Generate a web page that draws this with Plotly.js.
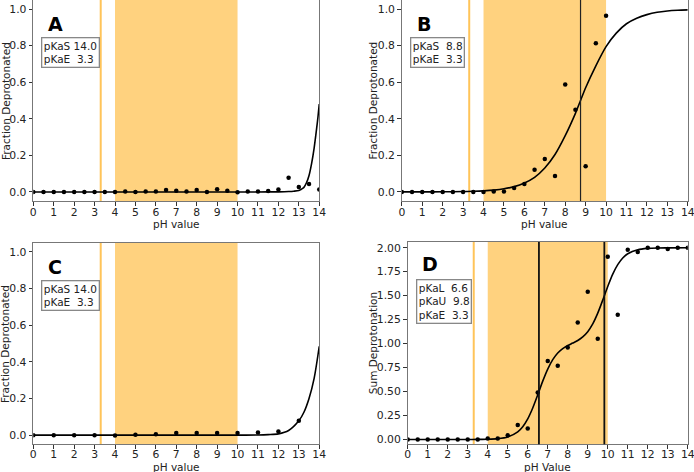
<!DOCTYPE html>
<html>
<head>
<meta charset="utf-8">
<script src="https://cdn.plot.ly/plotly-3.0.1.min.js"></script>
<style>html,body{margin:0;padding:0;background:#fff;}#chart{width:694px;height:472px;}</style>
</head>
<body>
<div id="chart"></div>
<script>
// ---------- data ----------
const phPts05 = [0,0.5,1,1.5,2,2.5,3,3.5,4,4.5,5,5.5,6,6.5,7,7.5,8,8.5,9,9.5,10,10.5,11,11.5,12,12.5,13,13.5,14];
const ptsA = [0,0,0,0,0,0,0,0,0,0.002,0,0.003,0.002,0.01,0.006,0.003,0.01,0,0.014,0.006,-0.002,0.002,0.003,0.005,0.013,0.078,0.027,0.043,0.013];

const phPtsB = [0,0.5,1,1.5,2,2.5,3,3.5,4,4.5,5,5.5,6,6.5,7,7.5,8,8.5,9,9.5,10];
const ptsB = [0,0,0,0,0,0,0,0,0,0.002,0.002,0.022,0.044,0.122,0.18,0.087,0.588,0.45,0.14,0.814,0.964];

const phPtsC = [0,1,2,3,4,5,6,7,8,9,10,11,12,13];
const ptsC = [0,0,0,0,-0.002,0.002,0.005,0.012,0.012,0.012,0.012,0.014,0.02,0.078];

const ptsD = [0,0,0,0,0,0,0,0,0.01,0.01,0.045,0.15,0.115,0.49,0.82,0.77,0.96,1.22,1.54,1.05,1.906,1.30,1.98,1.955,2.0,2.0,1.986,2.0,2.0];

const curveA_pH = [0,2,4,6,8,10,11,12,12.5,12.75,13,13.125,13.25,13.375,13.5,13.625,13.75,13.875,13.9375,14];
const curveA_y  = [0,0,0,0,0,0,0,0.0005,0.002,0.004,0.008,0.015,0.025,0.05,0.09,0.155,0.24,0.35,0.41,0.48];

const curveB_pH = [0,1,2,3,3.5,4,4.5,5,5.5,6,6.5,7,7.5,8,8.5,8.75,9,9.5,10,10.5,11,11.5,12,12.5,13,13.5,14];
const curveB_y  = [0.0001,0.0002,0.0007,0.002,0.0034,0.006,0.01,0.017,0.029,0.049,0.08,0.131,0.205,0.308,0.43,0.5,0.57,0.69,0.795,0.869,0.92,0.95,0.97,0.983,0.99,0.994,0.996];

const curveC_pH = [0,2,4,6,8,10,11,11.5,12,12.5,13,13.25,13.5,13.75,14];
const curveC_y  = [0,0,0,0,0,0,0.001,0.003,0.007,0.025,0.078,0.125,0.2,0.31,0.485];

const curveD_pH = [0,1,2,3,3.5,4,4.5,5,5.5,5.75,6,6.25,6.5,6.75,7,7.25,7.5,7.75,8,8.25,8.5,8.75,9,9.25,9.5,9.75,10,10.25,10.5,10.75,11,11.5,12,12.5,13,14];
const curveD_y  = [0,0,0,0,0.001,0.003,0.009,0.027,0.08,0.134,0.216,0.329,0.466,0.609,0.735,0.833,0.902,0.947,0.98,1.006,1.033,1.071,1.125,1.206,1.318,1.454,1.596,1.725,1.824,1.893,1.937,1.979,1.993,1.998,1.999,2.0];

const shadeRange = [4, 10];
const pKaE = 3.3;
const vlinesB = [8.75];
const vlinesD = [6.56, 9.83];

const panelLetters = ['A','B','C','D'];
const boxTexts = [
  ['pKaS 14.0','pKaE&nbsp;&nbsp;3.3'],
  ['pKaS&nbsp;&nbsp;8.8','pKaE&nbsp;&nbsp;3.3'],
  ['pKaS 14.0','pKaE&nbsp;&nbsp;3.3'],
  ['pKaL&nbsp;&nbsp;6.6','pKaU&nbsp;&nbsp;9.8','pKaE&nbsp;&nbsp;3.3']
];
const xTitles = ['pH value','pH value','pH value','pH Value'];
const yTitles = ['Fraction Deprotonated','Fraction Deprotonated','Fraction Deprotonated','Sum Deprotonation'];
const xTicks = [0,1,2,3,4,5,6,7,8,9,10,11,12,13,14];
const yTicksFrac = [0,0.2,0.4,0.6,0.8,1.0];
const yTicksSum = [0,0.25,0.5,0.75,1.0,1.25,1.5,1.75,2.0];

// ---------- build ----------
const axSuffix = ['','2','3','4'];
const ptsX = [phPts05, phPtsB, phPtsC, phPts05];
const ptsY = [ptsA, ptsB, ptsC, ptsD];
const crvX = [curveA_pH, curveB_pH, curveC_pH, curveD_pH];
const crvY = [curveA_y, curveB_y, curveC_y, curveD_y];

const traces = [];
for (let i=0;i<4;i++){
  const xa = 'x'+axSuffix[i], ya = 'y'+axSuffix[i];
  traces.push({x:crvX[i], y:crvY[i], xaxis:xa, yaxis:ya, mode:'lines',
    line:{color:'#000', width:1.6, shape:'spline', smoothing:0.8}, hoverinfo:'skip', showlegend:false});
  traces.push({x:ptsX[i], y:ptsY[i], xaxis:xa, yaxis:ya, mode:'markers',
    marker:{color:'#000', size:4.5}, showlegend:false, cliponaxis:true});
}

const domainsX = [[0.048,0.460],[0.579,0.991],[0.048,0.460],[0.5875,0.991]];
const domainsY = [[0.574,1.0],[0.574,1.0],[0.0587,0.4858],[0.0587,0.4873]];
const yRanges = [[-0.05,1.05],[-0.05,1.05],[-0.05,1.05],[-0.05,2.06]];
const xTitleY = [0.5255,0.5255,0.0106,0.0106];
const yTitleX = [0.0079,0.5375,0.0079,0.5375];

const font = 'DejaVu Sans, sans-serif';
const layout = {
  width:694, height:472,
  margin:{l:0,r:0,t:0,b:0},
  paper_bgcolor:'#fff', plot_bgcolor:'#fff',
  font:{family:font, size:10.5, color:'#222'},
  shapes:[], annotations:[]
};

for (let i=0;i<4;i++){
  const s = axSuffix[i];
  const isSum = i===3;
  layout['xaxis'+s] = {
    domain:domainsX[i], anchor:'y'+s, range:[0,14], tickmode:'array', tickvals:xTicks,
    ticks:'outside', ticklen:3.5, tickwidth:1, tickcolor:'#333',
    showline:true, mirror:true, linecolor:'#777', linewidth:1.2,
    showgrid:false, zeroline:false, ticklabeloverflow:'allow', ticklabelstandoff: i>=2 ? -4 : -3,
    tickfont:{size:10.8, color:'#222'}
  };
  layout['yaxis'+s] = {
    domain:domainsY[i], anchor:'x'+s, range:yRanges[i], tickmode:'array',
    tickvals: isSum ? yTicksSum : yTicksFrac,
    tickformat: isSum ? '.2f' : '.1f',
    ticks:'outside', ticklen:3.5, tickwidth:1, tickcolor:'#333',
    showline:true, mirror:true, linecolor:'#777', linewidth:1.2,
    showgrid:false, zeroline:false,
    tickfont:{size:10.8, color:'#222'}
  };
  // axis titles
  layout.annotations.push({xref:'x'+s+' domain', yref:'paper', x:0.5, y:xTitleY[i], xanchor:'center', yanchor:'middle',
    text:xTitles[i], showarrow:false, borderpad:0, font:{family:font, size:10.5, color:'#222'}});
  layout.annotations.push({xref:'paper', yref:'y'+s+' domain', x:yTitleX[i], y:0.5, xanchor:'center', yanchor:'middle',
    text:yTitles[i], textangle:-90, showarrow:false, font:{family:font, size:10.5, color:'#222'}});
  // shaded region
  layout.shapes.push({type:'rect', xref:'x'+s, yref:'y'+s+' domain', x0:shadeRange[0], x1:shadeRange[1], y0:0, y1:1,
    fillcolor:'rgba(255,165,0,0.5)', line:{width:0}, layer:'below'});
  // pKaE line
  layout.shapes.push({type:'line', xref:'x'+s, yref:'y'+s+' domain', x0:pKaE, x1:pKaE, y0:0, y1:1,
    line:{color:'rgba(255,165,0,0.65)', width:2}, layer:'below'});
  // letter
  layout.annotations.push({xref:'x'+s+' domain', yref:'y'+s+' domain', x:0.045, y: i===3?0.955:0.945,
    xanchor:'left', yanchor:'top', text:'<b>'+panelLetters[i]+'</b>', showarrow:false,
    font:{family:font, size:19, color:'#000'}});
  // box
  layout.annotations.push({xref:'x'+s+' domain', yref:'y'+s+' domain', x: i===3?0.031:0.027, y: i===3?0.816:0.817,
    xanchor:'left', yanchor:'top', align:'left', text:boxTexts[i].join('<br>'), showarrow:false,
    font:{family:font, size:10.5, color:'#222'}, bordercolor:'#888', borderwidth:1.3, borderpad:1.5, bgcolor:'#fff'});
}
vlinesB.forEach(v=>layout.shapes.push({type:'line', xref:'x2', yref:'y2 domain', x0:v, x1:v, y0:0, y1:1,
  line:{color:'#222', width:1.2}, layer:'above'}));
vlinesD.forEach(v=>layout.shapes.push({type:'line', xref:'x4', yref:'y4 domain', x0:v, x1:v, y0:0, y1:1,
  line:{color:'#111', width:1.8}, layer:'above'}));

Plotly.newPlot('chart', traces, layout, {staticPlot:true, displayModeBar:false});
</script>
</body>
</html>
